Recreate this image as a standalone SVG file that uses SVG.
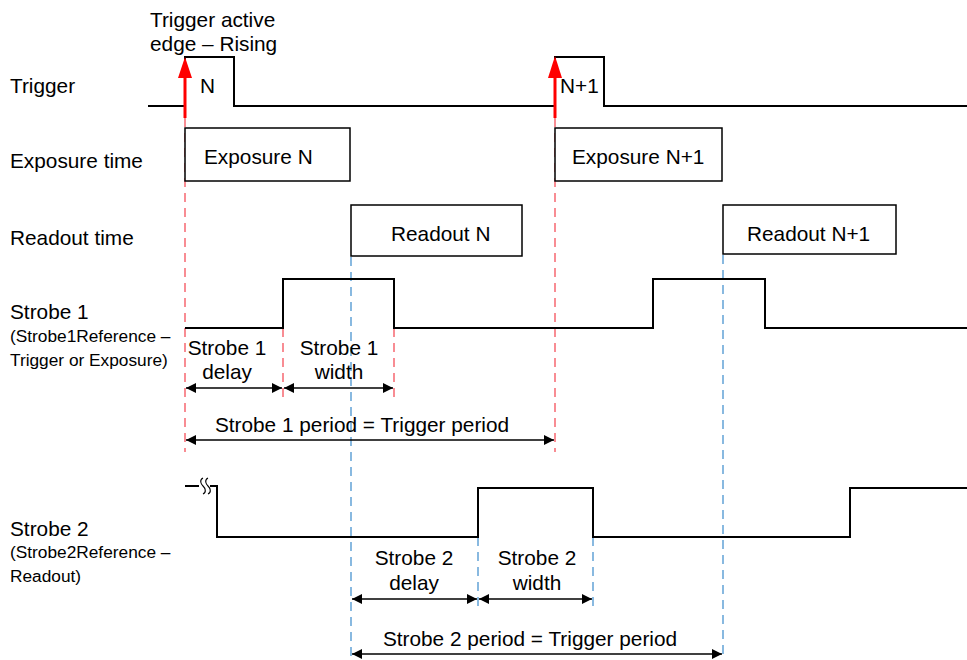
<svg xmlns="http://www.w3.org/2000/svg" width="967" height="660" viewBox="0 0 967 660">
<defs>
<marker id="ah" viewBox="0 0 10 10" refX="10" refY="5" markerWidth="10" markerHeight="10" markerUnits="userSpaceOnUse" orient="auto-start-reverse">
<path d="M0,0 L10,5 L0,10 z" fill="#000"/>
</marker>
</defs>
<style>
text{font-family:"Liberation Sans",Arial,sans-serif;fill:#000}
.l{font-size:20.8px}
.s{font-size:17.3px}
.c{text-anchor:middle}
.sig{fill:none;stroke:#000;stroke-width:2}
.box{fill:#fff;stroke:#000;stroke-width:1.5}
.rd{stroke:#f5505a;stroke-width:1.3;stroke-dasharray:9,6;fill:none}
.bd{stroke:#4a94d0;stroke-width:1.3;stroke-dasharray:9,6;fill:none}
.dim{stroke:#000;stroke-width:1.5;fill:none;marker-start:url(#ah);marker-end:url(#ah)}
</style>
<rect width="967" height="660" fill="#fff"/>
<g id="labels">
<text class="l" x="150" y="27">Trigger active</text>
<text class="l" x="150" y="51">edge – Rising</text>
<text class="l" x="10" y="93">Trigger</text>
<text class="l" x="10" y="168">Exposure time</text>
<text class="l" x="10" y="245">Readout time</text>
<text class="l" x="10" y="319">Strobe 1</text>
<text class="s" x="10" y="342">(Strobe1Reference –</text>
<text class="s" x="10" y="366">Trigger or Exposure)</text>
<text class="l" x="10" y="536">Strobe 2</text>
<text class="s" x="10" y="558">(Strobe2Reference –</text>
<text class="s" x="10" y="582">Readout)</text>
</g>
<g id="guides">
<line class="rd" x1="185" y1="118" x2="185" y2="452"/>
<line class="rd" x1="555" y1="118" x2="555" y2="452"/>
<line class="rd" x1="283" y1="328" x2="283" y2="398"/>
<line class="rd" x1="394" y1="328" x2="394" y2="398"/>
<line class="bd" x1="351" y1="257" x2="351" y2="660"/>
<line class="bd" x1="723" y1="255" x2="723" y2="660"/>
<line class="bd" x1="478" y1="537" x2="478" y2="612"/>
<line class="bd" x1="593" y1="537" x2="593" y2="612"/>
</g>
<g id="trigger">
<path class="sig" d="M148,106 H185 V57 H234 V106 H555 V57 H604 V106 H967"/>
<text class="l" x="200" y="93">N</text>
<text class="l" x="560" y="93">N+1</text>
</g>
<g id="trigger-arrows">
<line x1="185" y1="118" x2="185" y2="76" stroke="#f00" stroke-width="3"/>
<path d="M178,78 L185,57 L192,78 z" fill="#f00"/>
<line x1="555" y1="118" x2="555" y2="76" stroke="#f00" stroke-width="3"/>
<path d="M548,78 L555,56 L562,78 z" fill="#f00"/>
</g>
<g id="exposure-n">
<rect class="box" x="185" y="128" width="165" height="53"/>
<text class="l" x="204" y="164">Exposure N</text>
</g>
<g id="exposure-n1">
<rect class="box" x="555" y="128" width="167" height="53"/>
<text class="l" x="572" y="164">Exposure N+1</text>
</g>
<g id="readout-n">
<rect class="box" x="351" y="205" width="171" height="51"/>
<text class="l" x="391" y="241">Readout N</text>
</g>
<g id="readout-n1">
<rect class="box" x="723" y="205" width="173" height="49"/>
<text class="l" x="747" y="241">Readout N+1</text>
</g>
<g id="strobe1">
<path class="sig" d="M185,328 H283 V279 H394 V328 H653 V279 H765 V328 H967"/>
</g>
<g id="strobe2">
<path class="sig" d="M185,486 H199"/>
<path fill="none" stroke="#000" stroke-width="1.1" d="M203,478 C199,480 201,484 203,486 C205,488 207,492 203,494 M208,478 C204,480 206,484 208,486 C210,488 212,492 208,494"/>
<path class="sig" d="M210,486 H217 V537 H478 V488 H593 V537 H850 V488 H967"/>
</g>
<g id="connectors">
<line class="dim" x1="186" y1="388" x2="282" y2="388"/>
<line class="dim" x1="284" y1="388" x2="393" y2="388"/>
<line class="dim" x1="186" y1="440" x2="554" y2="440"/>
<line class="dim" x1="352" y1="599" x2="477" y2="599"/>
<line class="dim" x1="479" y1="599" x2="592" y2="599"/>
<line class="dim" x1="352" y1="654" x2="722" y2="654"/>
</g>
<g id="dim-labels">
<text class="l c" x="227" y="355">Strobe 1</text>
<text class="l c" x="227" y="379">delay</text>
<text class="l c" x="339" y="355">Strobe 1</text>
<text class="l c" x="339" y="379">width</text>
<text class="l c" x="362" y="432">Strobe 1 period = Trigger period</text>
<text class="l c" x="414" y="565">Strobe 2</text>
<text class="l c" x="414" y="590">delay</text>
<text class="l c" x="537" y="565">Strobe 2</text>
<text class="l c" x="537" y="590">width</text>
<text class="l c" x="530" y="646">Strobe 2 period = Trigger period</text>
</g>
</svg>
